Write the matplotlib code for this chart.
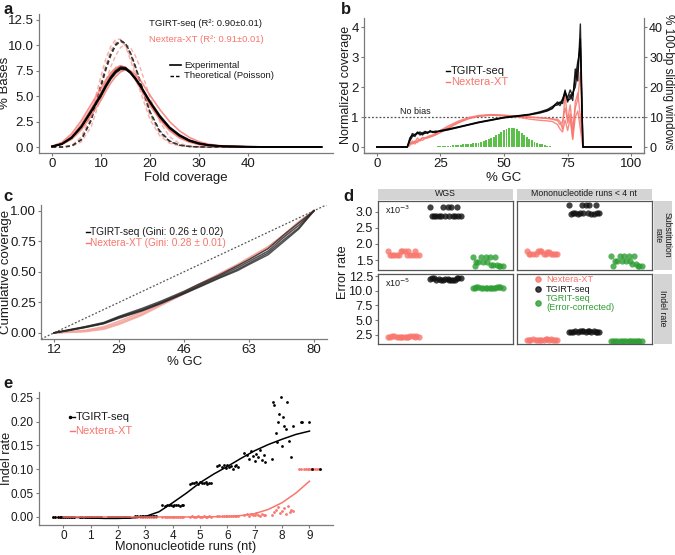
import matplotlib
matplotlib.use('Agg')
import matplotlib.pyplot as plt
from matplotlib.lines import Line2D
from matplotlib.patches import Rectangle

plt.rcParams['font.family'] = ['Liberation Sans', 'DejaVu Sans']

W, H = 675, 555
fig = plt.figure(figsize=(6.75, 5.55), dpi=100)

SALMON = '#F8766D'
LSALMON = '#F7A89E'
GREEN = '#2E9E34'
BARGREEN = '#5CBF4A'
AXGRAY = '#7a7a7a'
TXT = '#1a1a1a'
TICK = 9.5

# ---------------- panel a: fold coverage ----------------
fold = [0, 2, 4, 6, 8, 10, 11, 12, 13, 14, 15, 16, 17, 18, 20, 22, 24, 26, 28, 30, 32, 35, 40, 45, 50, 55]
tgirt_exp = [
    [0.05, 0.3, 0.9, 2.0, 3.5, 5.1, 6.0, 6.8, 7.4, 7.75, 7.7, 7.3, 6.7, 6.0, 4.4, 3.0, 1.9, 1.15, 0.65, 0.35, 0.18, 0.07, 0.02, 0.0, 0.0, 0.0],
    [0.05, 0.3, 0.95, 2.05, 3.6, 5.2, 6.1, 6.9, 7.5, 7.85, 7.8, 7.4, 6.8, 6.05, 4.4, 2.95, 1.85, 1.1, 0.6, 0.32, 0.16, 0.06, 0.02, 0.0, 0.0, 0.0],
    [0.05, 0.28, 0.88, 1.95, 3.45, 5.0, 5.9, 6.7, 7.3, 7.65, 7.65, 7.3, 6.75, 6.1, 4.5, 3.1, 1.95, 1.2, 0.68, 0.37, 0.19, 0.07, 0.02, 0.0, 0.0, 0.0],
]
nextera_exp = [
    [0.08, 0.45, 1.3, 2.6, 4.2, 5.8, 6.6, 7.3, 7.8, 8.0, 7.8, 7.3, 6.6, 5.8, 4.1, 2.7, 1.6, 0.9, 0.48, 0.24, 0.11, 0.04, 0.01, 0.0, 0.0, 0.0],
    [0.05, 0.25, 0.75, 1.7, 3.1, 4.6, 5.5, 6.3, 6.95, 7.4, 7.6, 7.5, 7.15, 6.6, 5.1, 3.7, 2.5, 1.6, 0.95, 0.52, 0.27, 0.1, 0.02, 0.0, 0.0, 0.0],
    [0.06, 0.35, 1.05, 2.25, 3.8, 5.4, 6.3, 7.1, 7.7, 7.95, 7.85, 7.4, 6.8, 6.0, 4.3, 2.85, 1.75, 1.0, 0.55, 0.28, 0.13, 0.05, 0.01, 0.0, 0.0, 0.0],
]
tgirt_theo = [
    [0.0, 0.0, 0.1, 0.75, 2.7, 6.1, 7.8, 9.2, 10.1, 10.5, 10.2, 9.2, 7.9, 6.4, 3.4, 1.5, 0.55, 0.18, 0.05, 0.01, 0.0, 0.0, 0.0, 0.0, 0.0, 0.0],
    [0.0, 0.0, 0.09, 0.7, 2.6, 5.9, 7.6, 9.0, 10.0, 10.4, 10.2, 9.3, 8.0, 6.5, 3.5, 1.6, 0.6, 0.2, 0.06, 0.01, 0.0, 0.0, 0.0, 0.0, 0.0, 0.0],
]
nextera_theo = [
    [0.0, 0.0, 0.15, 1.0, 3.3, 7.0, 8.7, 9.9, 10.6, 10.6, 9.9, 8.6, 7.1, 5.5, 2.7, 1.1, 0.37, 0.11, 0.03, 0.0, 0.0, 0.0, 0.0, 0.0, 0.0, 0.0],
    [0.0, 0.0, 0.06, 0.5, 2.0, 4.9, 6.5, 7.9, 9.0, 9.8, 10.1, 9.8, 9.0, 7.8, 4.9, 2.5, 1.0, 0.35, 0.1, 0.03, 0.0, 0.0, 0.0, 0.0, 0.0, 0.0],
    [0.0, 0.0, 0.1, 0.8, 2.9, 6.4, 8.1, 9.5, 10.3, 10.4, 10.0, 8.9, 7.5, 6.0, 3.1, 1.3, 0.45, 0.14, 0.04, 0.0, 0.0, 0.0, 0.0, 0.0, 0.0, 0.0],
]

# ---------------- panel b: GC bias ----------------
gc_b = [0, 12, 13, 14, 15, 16, 17, 18, 19, 20, 21, 22, 23, 25, 28, 32, 36, 40, 45, 50,
        55, 60, 64, 67, 69, 70, 71, 72, 73, 74, 75, 76, 77, 78, 79, 80, 81, 100]
tgirt_b = [
    [0, 0, 0.3, 0.4, 0.35, 0.5, 0.45, 0.4, 0.5, 0.45, 0.55, 0.48, 0.5, 0.53, 0.58, 0.66, 0.74, 0.82, 0.9, 0.98,
     1.03, 1.08, 1.15, 1.22, 1.3, 1.42, 1.45, 1.38, 1.55, 1.9, 1.5, 1.75, 1.55, 2.6, 2.2, 4.1, 0, 0],
    [0, 0, 0.25, 0.45, 0.4, 0.45, 0.5, 0.45, 0.45, 0.5, 0.5, 0.52, 0.48, 0.55, 0.6, 0.67, 0.75, 0.83, 0.91, 0.99,
     1.04, 1.09, 1.17, 1.25, 1.35, 1.4, 1.5, 1.45, 1.6, 1.8, 1.65, 1.9, 1.7, 2.3, 2.85, 3.3, 0, 0],
    [0, 0, 0.2, 0.35, 0.42, 0.48, 0.4, 0.47, 0.52, 0.48, 0.52, 0.5, 0.53, 0.52, 0.57, 0.65, 0.73, 0.81, 0.89, 0.97,
     1.02, 1.07, 1.13, 1.2, 1.28, 1.38, 1.4, 1.5, 1.45, 1.85, 1.55, 1.6, 1.8, 2.0, 2.6, 3.6, 0, 0],
]
nextera_b = [
    [0, 0, 0.05, 0.15, 0.1, 0.2, 0.25, 0.3, 0.28, 0.32, 0.35, 0.38, 0.4, 0.5, 0.65, 0.82, 0.95, 1.03, 1.07, 1.05,
     1.02, 0.99, 0.97, 0.95, 0.93, 0.9, 0.88, 0.75, 0.85, 1.3, 0.9, 1.4, 0.6, 1.3, 1.6, 2.5, 0, 0],
    [0, 0, 0.1, 0.2, 0.15, 0.3, 0.2, 0.32, 0.3, 0.35, 0.38, 0.4, 0.45, 0.55, 0.7, 0.86, 0.98, 1.05, 1.08, 1.06,
     1.03, 1.0, 0.98, 0.96, 0.94, 0.92, 0.93, 0.85, 0.6, 1.8, 0.8, 1.1, 0.3, 1.5, 1.8, 1.0, 0, 0],
    [0, 0, 0.15, 0.1, 0.2, 0.15, 0.25, 0.22, 0.3, 0.3, 0.33, 0.36, 0.4, 0.48, 0.62, 0.8, 0.94, 1.02, 1.06, 1.04,
     1.0, 0.93, 0.89, 0.87, 0.85, 0.8, 0.75, 0.6, 0.5, 0.9, 0.55, 0.95, 0.25, 1.0, 1.2, 0.6, 0, 0],
]
bar_gc = list(range(15, 73))
bar_pct = [0.02, 0.03, 0.04, 0.05, 0.06, 0.08, 0.1, 0.12, 0.15, 0.18, 0.22, 0.27, 0.32, 0.38, 0.45, 0.53,
           0.6, 0.68, 0.76, 0.85, 0.95, 1.05, 1.15, 1.25, 1.35, 1.45,
           1.65, 1.9, 2.2, 2.55, 2.95, 3.4, 3.9, 4.45, 5.0, 5.55,
           6.0, 6.35, 6.5, 6.4, 6.0, 5.4, 4.7, 4.0, 3.3, 2.7,
           2.2, 1.75, 1.4, 1.1, 0.85, 0.6, 0.4, 0.25, 0.15, 0.08, 0.04, 0.02]

# ---------------- panel c: cumulative coverage ----------------
gc_c = [12, 15, 20, 25, 29, 35, 40, 46, 50, 55, 60, 63, 68, 72, 76, 80]
tgirt_c = [
    [0, 0.02, 0.05, 0.085, 0.135, 0.2, 0.26, 0.34, 0.4, 0.47, 0.55, 0.6, 0.69, 0.8, 0.9, 1.0],
    [0, 0.018, 0.048, 0.08, 0.13, 0.19, 0.25, 0.33, 0.39, 0.46, 0.535, 0.585, 0.67, 0.78, 0.88, 1.0],
    [0, 0.016, 0.045, 0.078, 0.125, 0.185, 0.245, 0.325, 0.38, 0.45, 0.52, 0.57, 0.655, 0.76, 0.86, 1.0],
    [0, 0.015, 0.043, 0.075, 0.12, 0.18, 0.24, 0.32, 0.375, 0.445, 0.51, 0.56, 0.64, 0.745, 0.85, 1.0],
]
nextera_c = [
    [0, 0.008, 0.02, 0.05, 0.095, 0.17, 0.245, 0.335, 0.4, 0.48, 0.56, 0.615, 0.705, 0.8, 0.91, 1.0],
    [0, 0.005, 0.015, 0.04, 0.08, 0.155, 0.235, 0.33, 0.395, 0.477, 0.558, 0.612, 0.703, 0.798, 0.905, 1.0],
    [0, 0.004, 0.01, 0.03, 0.07, 0.145, 0.225, 0.32, 0.385, 0.47, 0.55, 0.605, 0.695, 0.79, 0.9, 1.0],
]

# ---------------- panel d: error rates ----------------
d_jit = [-0.36, -0.22, -0.31, -0.05, -0.27, 0.12, -0.15, 0.3, -0.1, 0.05, 0.22, 0.36, -0.02, 0.17, 0.27, 0.09]
sub_wgs = [
    [1.78, 1.66, 1.66, 1.78, 1.66, 1.78, 1.66, 1.66, 1.66, 1.78, 1.66, 1.66, 1.78, 1.66, 1.78, 1.66],
    [3.15, 2.88, 2.86, 3.15, 2.88, 3.15, 2.86, 2.88, 2.88, 3.15, 2.86, 2.88, 2.88, 2.86, 3.15, 2.88],
    [1.6, 1.45, 1.3, 1.6, 1.45, 1.35, 1.6, 1.3, 1.45, 1.6, 1.35, 1.3, 1.45, 1.6, 1.3, 1.35],
]
sub_mono = [
    [1.78, 1.68, 1.7, 1.78, 1.68, 1.74, 1.68, 1.7, 1.78, 1.68, 1.7, 1.68, 1.78, 1.74, 1.68, 1.7],
    [3.22, 2.95, 2.93, 3.2, 2.95, 3.22, 2.93, 2.95, 2.95, 3.2, 2.93, 2.95, 2.95, 2.93, 3.22, 2.95],
    [1.63, 1.47, 1.32, 1.63, 1.47, 1.38, 1.63, 1.32, 1.47, 1.63, 1.38, 1.32, 1.47, 1.63, 1.32, 1.47],
]
indel_wgs = [
    [2.1, 2.2, 2.15, 2.1, 2.2, 2.15, 2.1, 2.2, 2.1, 2.15, 2.2, 2.1, 2.15, 2.2, 2.1, 2.15],
    [12.0, 11.8, 12.2, 11.9, 12.1, 11.8, 12.0, 12.2, 11.9, 12.0, 11.8, 12.1, 12.0, 11.9, 12.2, 11.8],
    [10.5, 10.6, 10.5, 10.4, 10.6, 10.5, 10.5, 10.6, 10.4, 10.5, 10.6, 10.5, 10.4, 10.5, 10.6, 10.5],
]
indel_mono = [
    [1.6, 1.7, 1.55, 1.65, 1.6, 1.7, 1.6, 1.55, 1.65, 1.6, 1.7, 1.6, 1.55, 1.65, 1.6, 1.7],
    [3.0, 3.1, 2.9, 3.05, 3.0, 3.1, 2.95, 3.0, 3.1, 2.9, 3.05, 3.0, 3.1, 2.95, 3.0, 3.05],
    [1.45, 1.5, 1.4, 1.45, 1.5, 1.45, 1.4, 1.5, 1.45, 1.4, 1.5, 1.45, 1.45, 1.4, 1.5, 1.45],
]
d_colors = [SALMON, '#111111', GREEN]

# ---------------- panel e: indel rate vs run length ----------------
e_jit = [-0.38, -0.3, -0.21, -0.14, -0.07, 0.0, 0.06, 0.13, 0.2, 0.27, 0.33, 0.39]
tgirt_e = [
    [0.001, 0.001, 0.0, 0.001, 0.001, 0.0, 0.001, 0.001, 0.0, 0.001, 0.001, 0.0],
    [-0.001, 0.0, -0.001, 0.0, -0.001, -0.001, 0.0, -0.001, 0.0, -0.001, 0.0, -0.001],
    [-0.001, 0.0, -0.001, -0.001, 0.0, -0.001, 0.0, -0.001, -0.001, 0.0, -0.001, 0.0],
    [0.002, 0.003, 0.002, 0.002, 0.003, 0.002, 0.003, 0.002, 0.002, 0.003, 0.002, 0.002],
    [0.025, 0.024, 0.025, 0.026, 0.025, 0.024, 0.025, 0.025, 0.026, 0.024, 0.025, 0.025],
    [0.07, 0.072, 0.071, 0.074, 0.07, 0.073, 0.072, 0.071, 0.073, 0.07, 0.072, 0.071],
    [0.106, 0.11, 0.104, 0.108, 0.102, 0.109, 0.105, 0.107, 0.1, 0.106, 0.108, 0.104],
    [0.135, 0.13, 0.122, 0.138, 0.128, 0.118, 0.133, 0.125, 0.14, 0.12, 0.13, 0.115],
]
e8_jit = [-0.38, -0.33, -0.28, -0.24, -0.2, -0.15, -0.1, -0.05, 0.0, 0.04, 0.08, 0.13, 0.18, 0.25, 0.32, 0.38]
tgirt_e8 = [0.122, 0.24, 0.235, 0.175, 0.158, 0.2, 0.215, 0.252, 0.148, 0.21, 0.19, 0.185, 0.24, 0.16, 0.125, 0.19]
e9_jit = [-0.32, -0.28, 0.0, 0.1, 0.38]
tgirt_e9 = [0.2, 0.2, 0.2, 0.1, 0.1]
nextera_e = [
    [0.0, 0.001, 0.0, 0.0, 0.001, 0.0, 0.0, 0.001, 0.0, 0.0, 0.001, 0.0],
    [0.0, 0.0, 0.001, 0.0, 0.0, 0.001, 0.0, 0.0, 0.001, 0.0, 0.0, 0.0],
    [0.001, 0.0, 0.0, 0.001, 0.0, 0.0, 0.001, 0.0, 0.0, 0.001, 0.0, 0.0],
    [0.0, 0.001, 0.0, 0.0, 0.001, 0.0, 0.0, 0.0, 0.001, 0.0, 0.0, 0.001],
    [0.001, 0.0, 0.001, 0.0, 0.0, 0.001, 0.0, 0.001, 0.0, 0.0, 0.001, 0.0],
    [0.001, 0.002, 0.001, 0.001, 0.002, 0.001, 0.001, 0.002, 0.001, 0.001, 0.002, 0.001],
    [0.002, 0.003, 0.002, 0.003, 0.002, 0.002, 0.003, 0.002, 0.003, 0.002, 0.002, 0.003],
    [0.004, 0.006, 0.003, 0.007, 0.005, 0.004, 0.008, 0.005, 0.003, 0.006, 0.004, 0.005],
    [0.005, 0.01, 0.015, 0.02, 0.008, 0.012, 0.018, 0.006, 0.022, 0.01, 0.015, 0.012],
    [0.1, 0.1, 0.1, 0.1, 0.1, 0.1, 0.1, 0.1, 0.1, 0.1, 0.1, 0.1],
]
fit_x = [0, 0.5, 1, 1.5, 2, 2.5, 3, 3.5, 4, 4.5, 5, 5.5, 6, 6.5, 7, 7.5, 8, 8.5, 9]
tgirt_fit = [0.0, -0.001, -0.002, -0.003, -0.003, -0.002, 0.001, 0.011, 0.03, 0.05, 0.072, 0.09, 0.106, 0.123, 0.139, 0.152, 0.163, 0.173, 0.18]
nextera_fit = [0.0, 0.0, 0.0, 0.0, 0.0, 0.0, 0.0, 0.0, 0.0, 0.0, 0.0, 0.0005, 0.001, 0.003, 0.007, 0.016, 0.03, 0.05, 0.075]


def add_ax(l, t, r, b):
    return fig.add_axes([l / W, 1 - b / H, (r - l) / W, (b - t) / H])


def fx(x):
    return x / W


def fy(y):
    return 1 - y / H


def ftext(x, y, s, **kw):
    kw.setdefault('va', 'center')
    kw.setdefault('color', TXT)
    fig.text(fx(x), fy(y), s, **kw)


def fline(x0, x1, y, **kw):
    fig.add_artist(Line2D([fx(x0), fx(x1)], [fy(y), fy(y)], transform=fig.transFigure, **kw))


def classic(ax, right=False, size=TICK):
    for s in ['top', 'right']:
        ax.spines[s].set_visible(False)
    for s in ['left', 'bottom']:
        ax.spines[s].set_color(AXGRAY)
        ax.spines[s].set_linewidth(0.9)
    if right:
        ax.spines['right'].set_visible(True)
        ax.spines['right'].set_color(AXGRAY)
        ax.spines['right'].set_linewidth(0.9)
    ax.tick_params(colors=AXGRAY, labelcolor=TXT, labelsize=size, length=2.5, pad=1.2, width=0.8)
    ax.patch.set_alpha(0)


# panel a
ax = add_ax(39, 14, 333, 153)
classic(ax)
for ys in nextera_theo:
    ax.plot(fold, ys, color=LSALMON, lw=1.0, ls=(0, (3, 2)), alpha=0.9)
for ys in tgirt_theo:
    ax.plot(fold, ys, color='#333333', lw=1.0, ls=(0, (3, 2)))
for ys in nextera_exp:
    ax.plot(fold, ys, color=SALMON, lw=1.2, alpha=0.8)
for ys in tgirt_exp:
    ax.plot(fold, ys, color='black', lw=1.3, alpha=0.85)
ax.set_xlim(-2.65, 57.35)
ax.set_ylim(-0.59, 13.09)
ax.set_xticks([0, 10, 20, 30, 40])
ax.set_yticks([0, 2.5, 5, 7.5, 10, 12.5])
ax.set_yticklabels(['0.0', '2.5', '5.0', '7.5', '10.0', '12.5'])
ftext(3, 10, 'a', weight='bold', size=12)
ftext(186, 178, 'Fold coverage', size=9.5, ha='center')
ftext(5, 83, '% Bases', size=9.5, ha='center', rotation=90)
ftext(149, 24, 'TGIRT-seq (R²: 0.90±0.01)', size=6.8)
ftext(149, 40, 'Nextera-XT (R²: 0.91±0.01)', size=6.8, color=SALMON)
fline(170, 181, 65, color='black', lw=1.2)
fline(170, 181, 76, color='black', lw=1.0, ls=(0, (2.5, 1.5)))
ftext(184, 65, 'Experimental', size=6.8)
ftext(184, 76, 'Theoretical (Poisson)', size=6.8)

# panel b
axb = add_ax(364, 18, 644, 153)
axr = axb.twinx()
classic(axr, right=True, size=9)
classic(axb)
axr.bar(bar_gc, bar_pct, width=0.75, color=BARGREEN, lw=0)
axr.set_ylim(-2, 43)
axr.set_yticks([0, 10, 20, 30, 40])
axr.spines['left'].set_visible(False)
axb.set_zorder(axr.get_zorder() + 1)
axb.axhline(1, color='#555555', lw=0.9, ls=(0, (1.5, 1.5)))
for ys in nextera_b:
    axb.plot(gc_b, ys, color=SALMON, lw=1.0, alpha=0.85)
for ys in tgirt_b:
    axb.plot(gc_b, ys, color='black', lw=1.0, alpha=0.85)
axb.set_xlim(-5, 105)
axb.set_ylim(-0.2, 4.3)
axb.set_xticks([0, 25, 50, 75, 100])
axb.set_yticks([0, 1, 2, 3, 4])
axb.text(15, 1.17, 'No bias', size=6.5, ha='center', va='center', color=TXT)
ftext(341, 10, 'b', weight='bold', size=12)
ftext(504, 178, '% GC', size=9.5, ha='center')
ftext(346, 85, 'Normalized coverage', size=9, ha='center', rotation=90)
ftext(668, 82, '% 100-bp sliding windows', size=8.5, ha='center', rotation=-90)
fline(446, 450, 71, color='black', lw=1.0)
fline(446, 450, 82, color=SALMON, lw=1.0)
ftext(451, 71, 'TGIRT-seq', size=8)
ftext(451, 82, 'Nextera-XT', size=8, color=SALMON)

# panel c
axc = add_ax(41, 204.6, 327, 339)
classic(axc)
axc.plot([8.6, 83.4], [(8.6 - 12) / 68, (83.4 - 12) / 68], color='#555555', lw=0.9, ls=(0, (1.5, 1.5)))
for ys in nextera_c:
    axc.plot(gc_c, ys, color='#F4A49A', lw=1.2, alpha=0.9)
for ys in tgirt_c:
    axc.plot(gc_c, ys, color='#2a2a2a', lw=1.1, alpha=0.8)
axc.set_xlim(8.6, 83.4)
axc.set_ylim(-0.05, 1.05)
axc.set_xticks([12, 29, 46, 63, 80])
axc.set_yticks([0, 0.25, 0.5, 0.75, 1.0])
axc.set_yticklabels(['0.00', '0.25', '0.50', '0.75', '1.00'])
ftext(3, 197, 'c', weight='bold', size=12)
ftext(185, 362, '% GC', size=9.5, ha='center')
ftext(6, 272, 'Cumulative coverage', size=9.5, ha='center', rotation=90)
fline(86, 89.5, 231.7, color='black', lw=1.0)
fline(86, 89.5, 242.7, color=SALMON, lw=1.0)
ftext(90.5, 231.7, 'TGIRT-seq (Gini: 0.26 ± 0.02)', size=7.3)
ftext(90.5, 242.7, 'Nextera-XT (Gini: 0.28 ± 0.01)', size=7.3, color=SALMON)

# panel d
d_panels = [
    ((378, 200.5, 513, 270), sub_wgs, (1.19, 3.35), [1.5, 2.0, 2.5, 3.0], True, 'x10$^{-3}$'),
    ((516.5, 200.5, 652, 270), sub_mono, (1.19, 3.35), [1.5, 2.0, 2.5, 3.0], False, None),
    ((378, 273.5, 513, 344), indel_wgs, (0.92, 12.93), [2.5, 5.0, 7.5, 10.0, 12.5], True, 'x10$^{-5}$'),
    ((516.5, 273.5, 652, 344), indel_mono, (0.92, 12.93), [2.5, 5.0, 7.5, 10.0, 12.5], False, None),
]
for rect, groups, ylim, yt, left, note in d_panels:
    axd = add_ax(*rect)
    for s in axd.spines.values():
        s.set_color('#555555')
        s.set_linewidth(0.9)
    for i, ys in enumerate(groups):
        axd.scatter([i + 1 + j for j in d_jit], ys, s=20, color=d_colors[i], alpha=0.8, lw=0)
    axd.set_xlim(0.4, 3.6)
    axd.set_ylim(*ylim)
    axd.set_xticks([])
    axd.set_yticks(yt)
    axd.set_yticklabels(['%.1f' % v for v in yt])
    axd.tick_params(colors=AXGRAY, labelcolor=TXT, labelsize=9, length=2.5, pad=1.2, width=0.8)
    if not left:
        axd.tick_params(left=False, labelleft=False)
    if note:
        axd.text(0.05, 0.87, note, transform=axd.transAxes, size=6.5, color=TXT, va='center')

for l, r, lab in [(378, 513, 'WGS'), (516.5, 652, 'Mononucleotide runs < 4 nt')]:
    fig.add_artist(Rectangle((fx(l), fy(199.5)), (r - l) / W, 11 / H, transform=fig.transFigure,
                             facecolor='#d4d4d4', edgecolor='none'))
    ftext((l + r) / 2, 194, lab, size=6.3, ha='center')
for t, b, lab in [(200.5, 270, 'Substitution\nrate'), (273.5, 344, 'Indel rate')]:
    fig.add_artist(Rectangle((fx(653.5), fy(b)), 18.5 / W, (b - t) / H, transform=fig.transFigure,
                             facecolor='#d4d4d4', edgecolor='none'))
    ftext(662.7, (t + b) / 2, lab, size=6.3, ha='center', rotation=-90, linespacing=1.1)

ftext(343, 197, 'd', weight='bold', size=12)
ftext(343.5, 272, 'Error rate', size=9.2, ha='center', rotation=90)
for yy, col in [(279, SALMON), (289.3, '#111111'), (302.5, GREEN)]:
    fig.add_artist(Line2D([fx(538)], [fy(yy)], transform=fig.transFigure, marker='o', ms=3.8,
                          color=col, alpha=0.8, lw=0))
ftext(546, 279, 'Nextera-XT', size=6.6, color=SALMON)
ftext(546, 289.3, 'TGIRT-seq', size=6.6)
ftext(546, 298.3, 'TGRIT-seq', size=6.6, color=GREEN)
ftext(546, 307, '(Error-corrected)', size=6.6, color=GREEN)

# panel e
axe = add_ax(39, 391.7, 333, 525)
classic(axe, size=8.5)
for k in range(10):
    axe.scatter([k + j for j in e_jit], nextera_e[k], s=4, color=SALMON, lw=0)
for k in range(8):
    axe.scatter([k + j for j in e_jit], tgirt_e[k], s=4, color='black', lw=0)
axe.scatter([8 + j for j in e8_jit], tgirt_e8, s=4, color='black', lw=0)
axe.scatter([9 + j for j in e9_jit], tgirt_e9, s=4, color='black', lw=0)
axe.plot(fit_x, tgirt_fit, color='black', lw=1.1)
axe.plot(fit_x, nextera_fit, color=SALMON, lw=1.1)
axe.set_xlim(-0.89, 9.86)
axe.set_ylim(-0.0168, 0.2626)
axe.set_xticks(range(10))
axe.set_yticks([0, 0.05, 0.1, 0.15, 0.2, 0.25])
axe.set_yticklabels(['0.00', '0.05', '0.10', '0.15', '0.20', '0.25'])
ftext(3, 383, 'e', weight='bold', size=12)
ftext(186, 547, 'Mononucleotide runs (nt)', size=9.2, ha='center')
ftext(7, 458, 'Indel rate', size=9.2, ha='center', rotation=90)
fline(70, 75, 416.7, color='black', lw=1.0, marker='o', ms=1.5, markevery=[0])
fline(70, 75, 431, color=SALMON, lw=1.0)
ftext(75.5, 416.7, 'TGIRT-seq', size=8)
ftext(75.5, 431, 'Nextera-XT', size=8, color=SALMON)

fig.savefig('out.png', dpi=100)
